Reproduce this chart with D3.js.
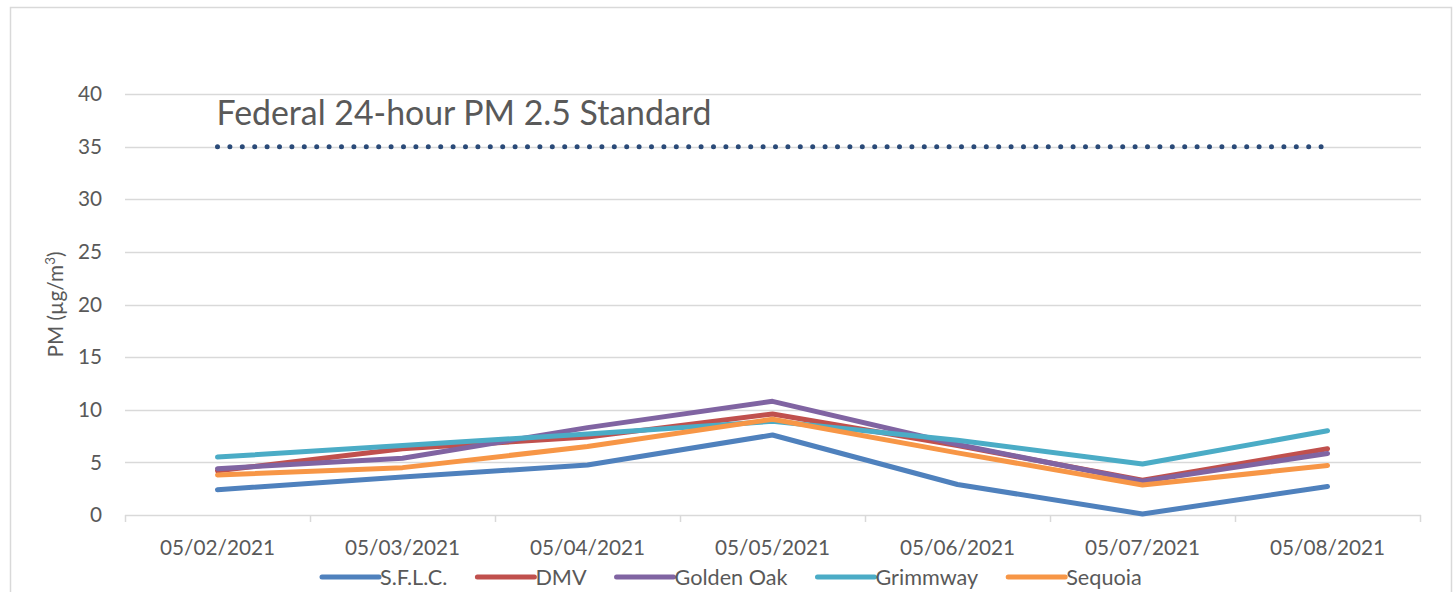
<!DOCTYPE html>
<html>
<head>
<meta charset="utf-8">
<script src="https://cdn.jsdelivr.net/npm/d3@7"></script>
<style>
  html, body { margin: 0; padding: 0; background: #fff; }
  svg { display: block; }
  text { font-family: Lato, "Open Sans", sans-serif; fill: #595959; }
</style>
</head>
<body>
<svg id="chart" width="1455" height="592"></svg>
<script>
// ---- data ----
const dates = ["05/02/2021", "05/03/2021", "05/04/2021", "05/05/2021", "05/06/2021", "05/07/2021", "05/08/2021"];
const seriesNames = ["S.F.L.C.", "DMV", "Golden Oak", "Grimmway", "Sequoia"];
const sflc      = [2.4, 3.6, 4.75, 7.6, 2.9, 0.1, 2.7];
const dmv       = [4.2, 6.3, 7.4, 9.6, 6.6, 3.3, 6.3];
const goldenOak = [4.4, 5.4, 8.3, 10.8, 6.7, 3.2, 5.85];
const grimmway  = [5.5, 6.6, 7.7, 8.9, 7.1, 4.85, 8.0];
const sequoia   = [3.8, 4.5, 6.5, 9.1, 5.9, 2.85, 4.7];
const standardValue = 35;
const standardLabel = "Federal 24-hour PM 2.5 Standard";
const yTicks = [0, 5, 10, 15, 20, 25, 30, 35, 40];
const colors = ["#4F81BD", "#C0504D", "#8064A2", "#4BACC6", "#F79646"];

const allSeries = [sflc, dmv, goldenOak, grimmway, sequoia];

const svg = d3.select("#chart");

// measure helper for fitting font sizes to the reference widths
function fitSize(str, target, base) {
  const t = svg.append("text").attr("font-size", base).text(str);
  const w = t.node().getComputedTextLength();
  t.remove();
  return base * target / w;
}
const tickSize = fitSize("05/02/2021", 115, 24);
const legendSize = fitSize("Golden Oak", 113, 24);
const titleSize = fitSize(standardLabel, 495, 36);

// chart border
svg.append("rect")
  .attr("x", 10.5).attr("y", 7.5)
  .attr("width", 1441).attr("height", 620)
  .attr("fill", "none").attr("stroke", "#D9D9D9").attr("stroke-width", 1.5);

const plot = { left: 125, right: 1420, top: 94, bottom: 515 };

const x = d3.scaleBand().domain(dates).range([plot.left, plot.right]).padding(0);
const y = d3.scaleLinear().domain([0, 40]).range([plot.bottom, plot.top]);
const cx = d => x(d) + x.bandwidth() / 2;

// gridlines
svg.append("g")
  .selectAll("line")
  .data(yTicks.filter(v => v > 0))
  .join("line")
  .attr("x1", plot.left).attr("x2", plot.right + 1)
  .attr("y1", d => Math.round(y(d)) + 0.5).attr("y2", d => Math.round(y(d)) + 0.5)
  .attr("stroke", "#D9D9D9").attr("stroke-width", 1.3);

// y axis labels
const yAxis = d3.axisLeft(y).tickValues(yTicks).tickSize(0).tickPadding(0);
const yg = svg.append("g").attr("transform", `translate(102,0)`).call(yAxis);
yg.select(".domain").remove();
yg.selectAll("text")
  .attr("font-size", tickSize)
  .attr("font-family", "Lato, 'Open Sans', sans-serif")
  .attr("fill", "#595959");

// x axis
const xAxis = d3.axisBottom(x).tickSize(0).tickPadding(0);
const xg = svg.append("g").attr("transform", `translate(0,${plot.bottom})`).call(xAxis);
xg.select(".domain").attr("stroke", "#D9D9D9").attr("stroke-width", 1.5)
  .attr("d", `M${plot.left},0.5H${plot.right + 1}`);
xg.selectAll("text")
  .attr("font-size", tickSize)
  .attr("font-family", "Lato, 'Open Sans', sans-serif")
  .attr("fill", "#595959")
  .attr("y", 0)
  .attr("dy", "40px");
// category boundary ticks
const bounds = dates.map(d => x(d)).concat([plot.right]);
svg.append("g").selectAll("line").data(bounds).join("line")
  .attr("x1", d => Math.round(d) + 0.5).attr("x2", d => Math.round(d) + 0.5)
  .attr("y1", plot.bottom).attr("y2", plot.bottom + 7)
  .attr("stroke", "#D9D9D9").attr("stroke-width", 1.5);

// y axis title
const yt = svg.append("text")
  .attr("transform", `translate(63,${(plot.top + plot.bottom) / 2}) rotate(-90)`)
  .attr("text-anchor", "middle")
  .attr("font-size", tickSize);
yt.append("tspan").text("PM (µg/m");
yt.append("tspan").attr("font-size", tickSize * 0.65).attr("dy", -tickSize * 0.38).text("3");
yt.append("tspan").attr("dy", tickSize * 0.38).text(")");

// series lines
const line = d3.line().x((v, i) => cx(dates[i])).y(v => y(v));
svg.append("g").selectAll("path").data(allSeries).join("path")
  .attr("d", line)
  .attr("fill", "none")
  .attr("stroke", (d, i) => colors[i])
  .attr("stroke-width", 5)
  .attr("stroke-linejoin", "round")
  .attr("stroke-linecap", "round");

// federal standard dotted line
const stdLine = dates.map(() => standardValue);
svg.append("path")
  .attr("d", line(stdLine))
  .attr("fill", "none")
  .attr("stroke", "#2A4A78")
  .attr("stroke-width", 5)
  .attr("stroke-linecap", "round")
  .attr("stroke-dasharray", "0 12.4");

svg.append("text")
  .attr("x", cx(dates[0]) - 1)
  .attr("y", 125)
  .attr("font-size", titleSize)
  .text(standardLabel);

// legend
const legend = svg.append("g");
let lx = 322;
const ly = 577;
seriesNames.forEach((name, i) => {
  legend.append("line")
    .attr("x1", lx).attr("x2", lx + 57)
    .attr("y1", ly).attr("y2", ly)
    .attr("stroke", colors[i]).attr("stroke-width", 5)
    .attr("stroke-linecap", "round");
  const t = legend.append("text")
    .attr("x", lx + 58).attr("y", ly)
    .attr("dy", "0.35em")
    .attr("font-size", legendSize)
    .text(name);
  lx += 58 + t.node().getComputedTextLength() + 30;
});
</script>
</body>
</html>
